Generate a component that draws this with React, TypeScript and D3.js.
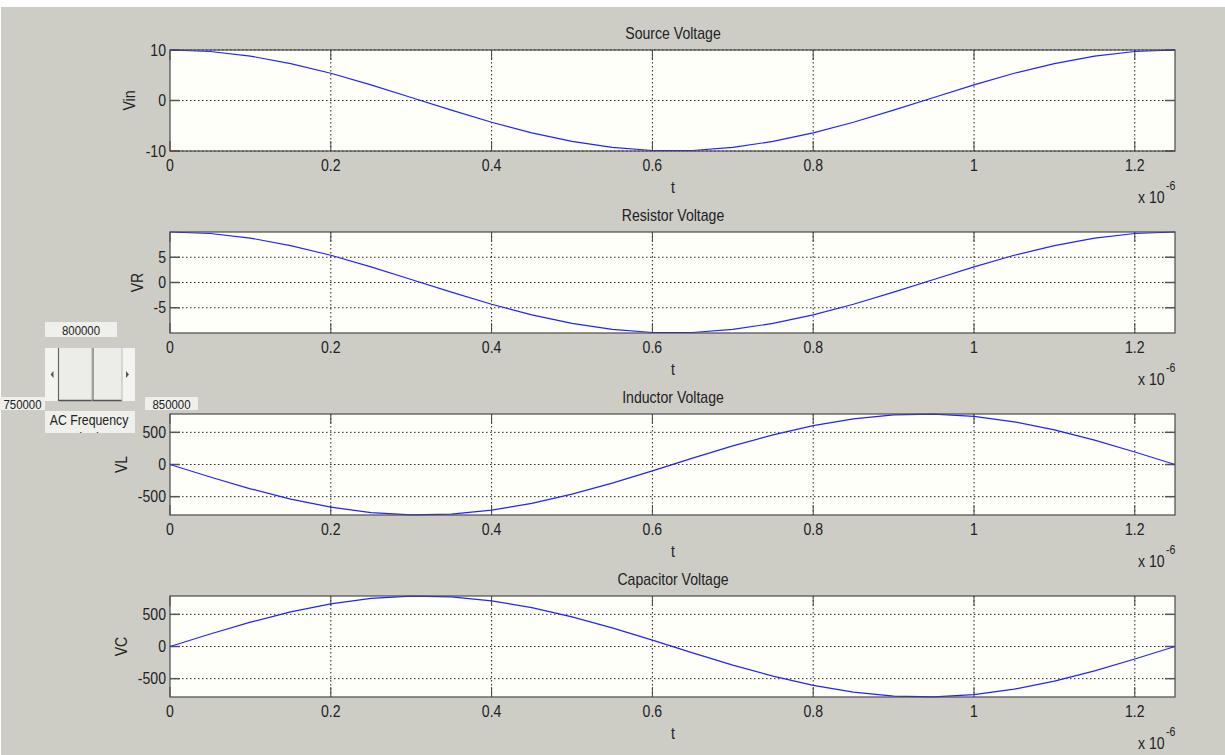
import React from "react";
import * as d3 from "d3";

// time samples (units of 1e-6 s)
const tSamples = [0, 0.05, 0.1, 0.15, 0.2, 0.25, 0.3, 0.35, 0.4, 0.45, 0.5, 0.55, 0.6, 0.65, 0.7, 0.75, 0.8, 0.85, 0.9, 0.95, 1.0, 1.05, 1.1, 1.15, 1.2, 1.25];
const vinValues = [10, 9.7, 8.8, 7.3, 5.4, 3.1, 0.6, -1.9, -4.3, -6.4, -8.1, -9.3, -9.9, -9.9, -9.3, -8.1, -6.4, -4.3, -1.9, 0.6, 3.1, 5.4, 7.3, 8.8, 9.7, 10];
const vrValues = [10, 9.7, 8.8, 7.3, 5.4, 3.1, 0.6, -1.9, -4.3, -6.4, -8.1, -9.3, -9.9, -9.9, -9.3, -8.1, -6.4, -4.3, -1.9, 0.6, 3.1, 5.4, 7.3, 8.8, 9.7, 10];
const vlValues = [0, -195, -378, -537, -663, -747, -783, -771, -710, -605, -461, -289, -98, 98, 289, 461, 605, 710, 771, 783, 747, 663, 537, 378, 195, 0];
const vcValues = [0, 195, 378, 537, 663, 747, 783, 771, 710, 605, 461, 289, 98, -98, -289, -461, -605, -710, -771, -783, -747, -663, -537, -378, -195, 0];

const xTicks = [0, 0.2, 0.4, 0.6, 0.8, 1, 1.2];
const xTickLabels = ["0", "0.2", "0.4", "0.6", "0.8", "1", "1.2"];

const panelTitles = ["Source Voltage", "Resistor Voltage", "Inductor Voltage", "Capacitor Voltage"];
const panelYLabels = ["Vin", "VR", "VL", "VC"];
const panelYDomains: [number, number][] = [[-10, 10], [-10, 10], [-785, 785], [-785, 785]];
const panelYTicks = [[-10, 0, 10], [-5, 0, 5], [-500, 0, 500], [-500, 0, 500]];
const panelSeries = [vinValues, vrValues, vlValues, vcValues];

const sliderMin = "750000";
const sliderMax = "850000";
const sliderValue = "800000";
const sliderLabel = "AC Frequency";

const W = 1225;
const H = 755;
const FONT = "'Liberation Sans', Arial, sans-serif";
const SX = 0.88;
const TXT = "#222222";

const panelTops = [50, 232, 414, 596];
const panelYLabelX = [129.5, 137, 121, 121.5];
const axH = 101;
const axL = 170;
const axR = 1175;

function T({ x, y, children, anchor = "middle", size = 16, rotate = 0, fill = TXT }: any) {
  return (
    <g transform={`translate(${x},${y}) rotate(${rotate}) scale(${SX},1)`}>
      <text x={0} y={0} textAnchor={anchor} fontSize={size} fontFamily={FONT} fill={fill}>
        {children}
      </text>
    </g>
  );
}

function Panel({ i }: { i: number }) {
  const top = panelTops[i];
  const bottom = top + axH;
  const x = d3.scaleLinear().domain([0, 1.25]).range([axL, axR]);
  const y = d3.scaleLinear().domain(panelYDomains[i]).range([bottom, top]);
  const data = tSamples.map((t, k) => [t, panelSeries[i][k]] as [number, number]);
  const line = d3
    .line<[number, number]>()
    .x((d) => x(d[0]))
    .y((d) => y(d[1]));
  const tickLen = 10;
  const grid = "#222";
  const dash = "1.5,2.5";
  return (
    <g>
      <rect x={axL} y={top} width={axR - axL} height={axH} fill="#fffff9" />
      {xTicks.map((t) =>
        t > 0 ? (
          <line key={"gx" + t} x1={x(t)} x2={x(t)} y1={top} y2={bottom} stroke={grid} strokeWidth={1} strokeDasharray={dash} />
        ) : null
      )}
      {panelYTicks[i].map((v) => (
        <line key={"gy" + v} x1={axL} x2={axR} y1={y(v)} y2={y(v)} stroke={grid} strokeWidth={1} strokeDasharray={dash} />
      ))}
      {xTicks.map((t) => (
        <g key={"tx" + t}>
          <line x1={x(t)} x2={x(t)} y1={bottom} y2={bottom - tickLen} stroke="#444" strokeWidth={1} />
          <line x1={x(t)} x2={x(t)} y1={top} y2={top + tickLen} stroke="#444" strokeWidth={1} />
        </g>
      ))}
      {panelYTicks[i].map((v) => (
        <g key={"ty" + v}>
          <line x1={axL} x2={axL + tickLen} y1={y(v)} y2={y(v)} stroke="#555" strokeWidth={1.5} />
          <line x1={axR} x2={axR - tickLen} y1={y(v)} y2={y(v)} stroke="#555" strokeWidth={1.5} />
        </g>
      ))}
      <path d={line(data) || ""} fill="none" stroke="#2222ff" strokeWidth={1.2} />
      <rect x={axL} y={top} width={axR - axL} height={axH} fill="none" stroke="#4a4a4a" strokeWidth={1.2} />
      {xTicks.map((t, k) => (
        <T key={"lx" + t} x={x(t)} y={bottom + 20}>
          {xTickLabels[k]}
        </T>
      ))}
      {panelYTicks[i].map((v) => (
        <T key={"ly" + v} x={axL - 4} y={y(v) + 5.7} anchor="end">
          {String(v)}
        </T>
      ))}
      <T x={(axL + axR) / 2 + 0.5} y={bottom + 41.5}>t</T>
      <T x={(axL + axR) / 2 + 0.5} y={top - 11}>{panelTitles[i]}</T>
      <T x={panelYLabelX[i] + 5.7} y={top + axH / 2} rotate={-90}>
        {panelYLabels[i]}
      </T>
      <T x={1138} y={bottom + 51.5} anchor="start">x 10</T>
      <T x={1166} y={bottom + 39} anchor="start" size={12}>-6</T>
    </g>
  );
}

function Slider() {
  const boxFill = "#efefec";
  return (
    <g fontFamily={FONT}>
      <rect x={45} y={322} width={72} height={15} fill={boxFill} />
      <T x={81} y={334.5} size={13}>{sliderValue}</T>
      <rect x={45} y={348} width={90} height={53} fill="#f3f3f0" />
      <rect x={58.5} y={348} width={34} height={53} fill="#ecece8" />
      <rect x={93} y={348} width={29} height={53} fill="#ecece8" />
      <line x1={58.5} x2={58.5} y1={348} y2={401} stroke="#666" strokeWidth={1.2} />
      <line x1={93} x2={93} y1={348} y2={401} stroke="#666" strokeWidth={1.2} />
      <line x1={58.5} x2={122} y1={400.5} y2={400.5} stroke="#555" strokeWidth={1.4} />
      <line x1={92} x2={92} y1={348} y2={401} stroke="#aaa" strokeWidth={1} />
      <line x1={122} x2={122} y1={348} y2={401} stroke="#bbb" strokeWidth={1} />
      <path d="M50.5,374.5 L53.5,371 L53.5,378 Z" fill="#555" />
      <path d="M129,374.5 L126,371 L126,378 Z" fill="#555" />
      <rect x={0} y={397} width={45} height={13} fill={boxFill} />
      <T x={22.5} y={408.5} size={13}>{sliderMin}</T>
      <rect x={145} y={397} width={53} height={13} fill={boxFill} />
      <T x={171.5} y={408.5} size={13}>{sliderMax}</T>
      <defs>
        <clipPath id="lblclip">
          <rect x={45} y={411} width={90} height={22} />
        </clipPath>
      </defs>
      <g clipPath="url(#lblclip)">
        <rect x={45} y={411} width={90} height={22} fill={boxFill} />
        <T x={89} y={425} size={14}>{sliderLabel}</T>
        <T x={89} y={442.5} size={14}>(Hz)</T>
      </g>
    </g>
  );
}

export default function App() {
  return (
    <svg width={W} height={H} style={{ position: "absolute", left: 0, top: 0, display: "block" }}>
      <rect x={0} y={0} width={W} height={H} fill="#ffffff" />
      <rect x={1} y={7} width={W - 1} height={H - 7} fill="#cdcdc6" />
      {panelTitles.map((_, i) => (
        <Panel key={i} i={i} />
      ))}
      <Slider />
    </svg>
  );
}
